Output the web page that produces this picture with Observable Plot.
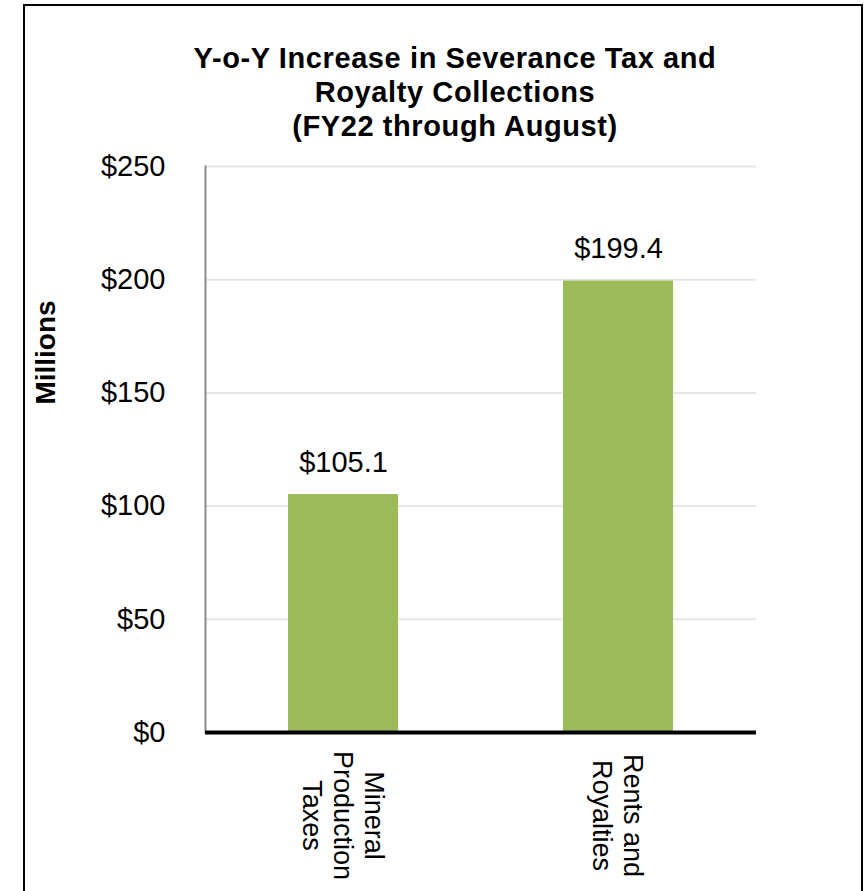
<!DOCTYPE html>
<html>
<head>
<meta charset="utf-8">
<script src="https://cdn.jsdelivr.net/npm/d3@7"></script>
<script src="https://cdn.jsdelivr.net/npm/@observablehq/plot@0.6"></script>
<style>
  html, body { margin: 0; padding: 0; background: #fff; }
  #wrap { position: relative; width: 864px; height: 891px; overflow: hidden; font-family: Arial, "Liberation Sans", sans-serif; }
  #border { position: absolute; left: 23px; top: 4px; width: 840px; height: 900px; border: 2px solid #000; box-sizing: border-box; border-bottom: none; pointer-events: none; }
  #title { position: absolute; left: 0; width: 910px; top: 41px; text-align: center; font-weight: bold; font-size: 29px; line-height: 34px; letter-spacing: 0.6px; color: #000; }
  #chart { position: absolute; left: 0; top: 0; }
</style>
</head>
<body>
<div id="wrap">
  <div id="chart"></div>
  <div id="title">Y-o-Y Increase in Severance Tax and<br>Royalty Collections<br>(FY22 through August)</div>
  <div id="border"></div>
</div>
<script>
const categories = ["Mineral Production Taxes", "Rents and Royalties"];
const values = [105.1, 199.4];
const xLabels = ["Mineral\nProduction\nTaxes", "Rents and\nRoyalties"];
const yTicks = [0, 50, 100, 150, 200, 250];
const yTitle = "Millions";

const data = categories.map((c, i) => ({category: c, value: values[i], label: xLabels[i]}));

const chart = Plot.plot({
  width: 864,
  height: 891,
  marginLeft: 205,
  marginRight: 108,
  marginTop: 166,
  marginBottom: 159,
  style: {fontFamily: "Arial, 'Liberation Sans', sans-serif", color: "#000", background: "transparent"},
  x: {domain: categories, paddingInner: 0.6, paddingOuter: 0.3, axis: null},
  y: {domain: [0, 250], axis: null},
  marks: [
    Plot.gridY(yTicks, {stroke: "#e6e6e6", strokeOpacity: 1, strokeWidth: 2}),
    Plot.barY(data, {x: "category", y: "value", fill: "#9BBB59"}),
    Plot.frame({anchor: "left", stroke: "#8c8c8c", strokeWidth: 2}),
    Plot.ruleY([0], {stroke: "#000", strokeWidth: 4}),
    Plot.axisY(yTicks, {tickSize: 0, tickPadding: 40, fontSize: 29, tickFormat: d => "$" + d, label: null, fill: "#000"}),
    Plot.text(data, {x: "category", y: "value", text: d => "$" + d.value.toFixed(1), dy: -32, fontSize: 29, fill: "#000"}),
    Plot.text(data, {x: "category", text: "label", frameAnchor: "bottom", rotate: 90, dy: 83, fontSize: 27, lineHeight: 1.15, textAnchor: "middle", lineAnchor: "middle", fill: "#000"}),
    Plot.text([yTitle], {text: d => d, frameAnchor: "left", rotate: -90, dx: -159, dy: -97, textAnchor: "middle", lineAnchor: "middle", fontSize: 28, fontWeight: "bold", fill: "#000"})
  ]
});
document.getElementById("chart").appendChild(chart);
</script>
</body>
</html>
